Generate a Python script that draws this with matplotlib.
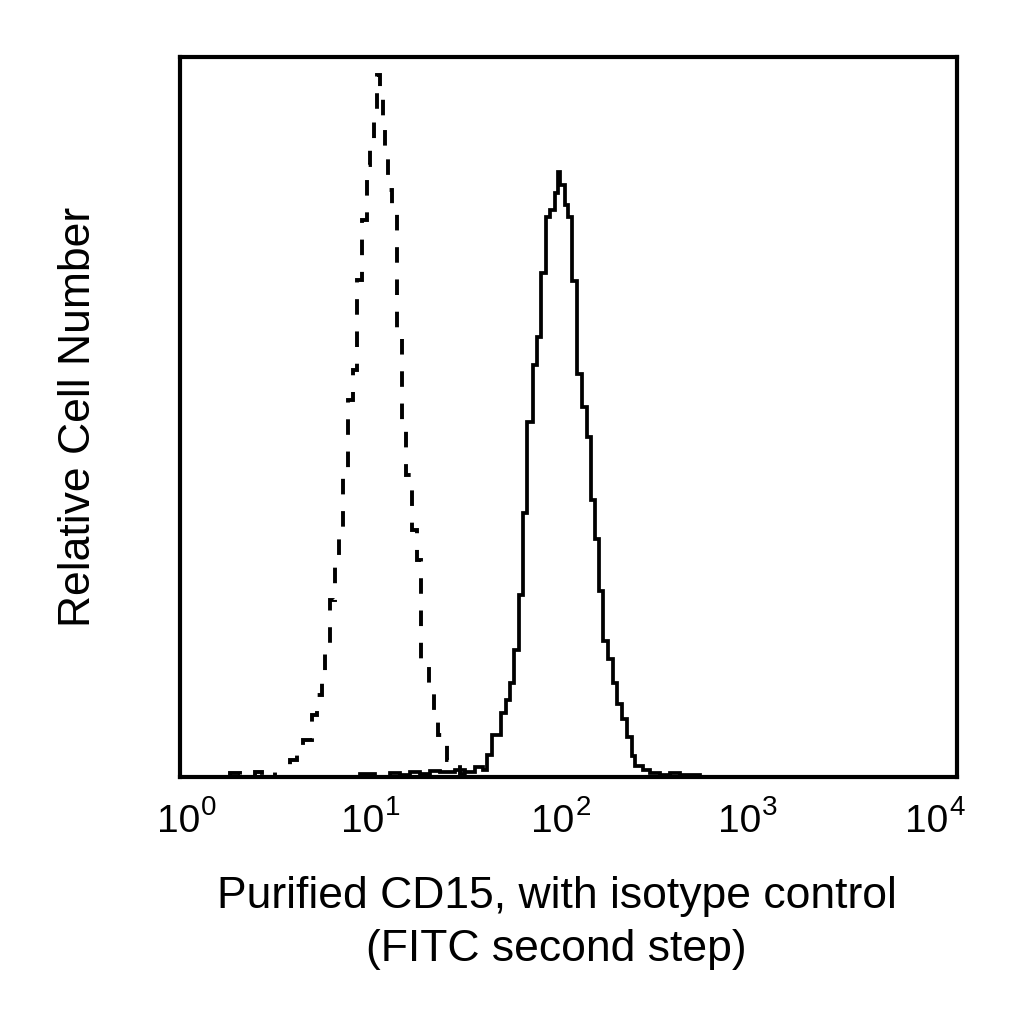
import matplotlib.pyplot as plt
import numpy as np

plt.rcParams['font.family'] = ['Liberation Sans', 'DejaVu Sans']

# isotype control (dashed), bin edges in log10 fluorescence, relative counts
iso_edges = [0.257, 0.309, 0.386, 0.422, 0.453, 0.489, 0.541, 0.566, 0.602, 0.633,
             0.680, 0.705, 0.731, 0.746, 0.772, 0.798, 0.819, 0.839, 0.865, 0.891,
             0.911, 0.937, 0.963, 0.978, 0.999, 1.014, 1.030, 1.045, 1.055, 1.071,
             1.091, 1.117, 1.143, 1.163, 1.194, 1.220, 1.241, 1.282, 1.308, 1.328,
             1.375, 1.441, 1.493, 1.544]
iso_counts = [0.6, 0, 0.7, 0.3, 0.7, 0, 1.7, 2.4, 3.8, 5.1,
              8.6, 11.4, 13.5, 17.6, 24.6, 29.4, 34.3, 42.6, 52.4, 56.5,
              69.0, 77.4, 85.0, 87.1, 91.9, 97.5, 95.0, 89.9, 87.1, 81.5,
              78.5, 61.4, 49.6, 41.9, 34.3, 30.1, 16.2, 12.1, 9.3, 5.8,
              2.4, 0.4, 0]

# purified CD15 (solid)
cd15_edges = [0.927, 1.004, 1.081, 1.133, 1.184, 1.236, 1.287, 1.338, 1.416, 1.467,
              1.519, 1.560, 1.580, 1.606, 1.653, 1.678, 1.699, 1.719, 1.745, 1.766,
              1.786, 1.817, 1.838, 1.858, 1.884, 1.905, 1.931, 1.946, 1.956, 1.982,
              1.997, 2.018, 2.044, 2.069, 2.095, 2.116, 2.136, 2.157, 2.178, 2.203,
              2.229, 2.250, 2.275, 2.301, 2.327, 2.342, 2.384, 2.420, 2.471, 2.523,
              2.574, 2.677]
cd15_counts = [0.4, 0, 0.6, 0.3, 0.7, 0.4, 0.8, 0.7, 1.0, 0.7,
               1.4, 1.0, 3.1, 5.8, 8.9, 10.7, 13.1, 17.6, 25.3, 36.7,
               49.3, 57.2, 61.1, 70.0, 77.8, 78.8, 81.1, 84.0, 82.2, 79.4,
               77.8, 68.9, 56.0, 51.4, 47.2, 38.5, 33.1, 25.8, 18.9, 16.4,
               13.1, 10.1, 8.1, 5.6, 2.9, 1.5, 1.0, 0.6, 0.3, 0.6,
               0.3]

xticks = [1, 10, 100, 1000, 10000]
xtick_exps = ['0', '1', '2', '3', '4']
xlabel = 'Purified CD15, with isotype control\n(FITC second step)'
ylabel = 'Relative Cell Number'

fig = plt.figure(figsize=(10.24, 10.24), dpi=100)
ax = fig.add_axes([0.1758, 0.2412, 0.7588, 0.7031])

ax.stairs(iso_counts, 10 ** np.array(iso_edges), color='black', lw=2.8,
          linestyle=(0, (4.0, 4.3)))
ax.stairs(cd15_counts, 10 ** np.array(cd15_edges), color='black', lw=2.7)

ax.set_xscale('log')
ax.set_xlim(1, 1e4)
ax.set_ylim(0, 100)
ax.set_xticks(xticks)
ax.set_xticklabels([])
ax.minorticks_off()
ax.set_yticks([])
ax.tick_params(axis='x', length=0)
for s in ax.spines.values():
    s.set_linewidth(3)

# decade labels "10" + raised exponent; printed a little left of the decades on the right
shifts = [7, -3, -7, -15, -22]
for t, e, dx in zip(xticks, xtick_exps, shifts):
    ax.annotate('10', xy=(t, 0), xycoords=('data', 'axes fraction'),
                xytext=(dx + 13, -55), textcoords='offset pixels',
                ha='right', va='baseline', fontsize=28)
    ax.annotate(e, xy=(t, 0), xycoords=('data', 'axes fraction'),
                xytext=(dx + 14, -38), textcoords='offset pixels',
                ha='left', va='baseline', fontsize=20)

ax.set_xlabel(xlabel, fontsize=32, labelpad=68, linespacing=1.35)
ax.xaxis.label.set_x(0.4846)
ax.set_ylabel(ylabel, fontsize=32, labelpad=58)

fig.savefig('out.png', dpi=100)
